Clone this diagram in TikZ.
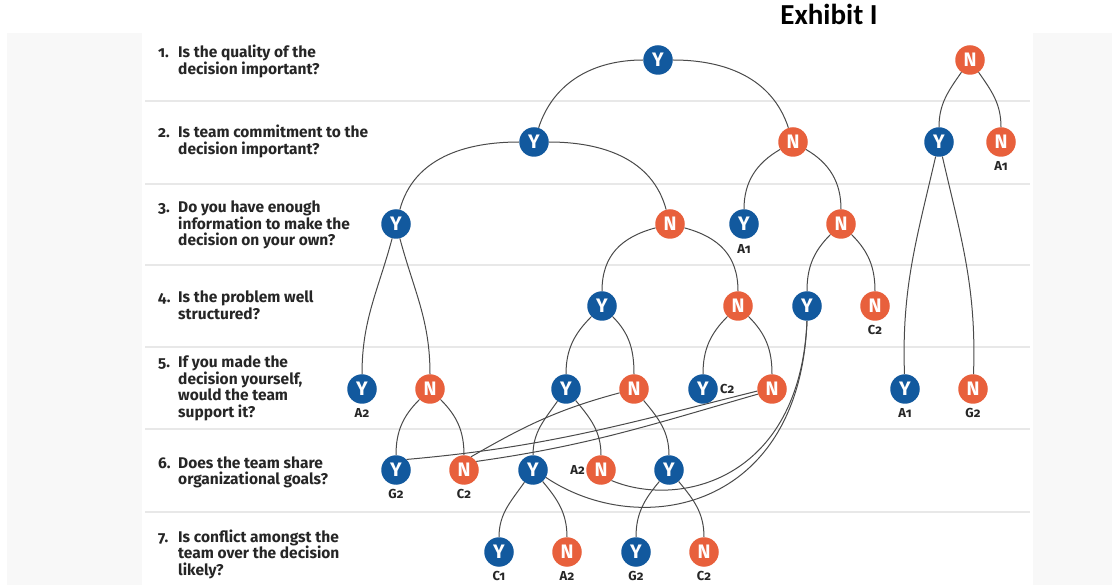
\documentclass[tikz,border=0pt]{standalone}
\usepackage{fontspec}
\setmainfont[Numbers=OldStyle]{Fira Sans}
\newfontfamily\titlefont{Carlito}
\definecolor{yblue}{HTML}{12599E}
\definecolor{norange}{HTML}{E8603C}
\definecolor{edgegray}{HTML}{4A4A4A}
\definecolor{sepgray}{HTML}{E8E8E8}
\definecolor{panelgray}{HTML}{F8F8F8}
\definecolor{qtextcol}{HTML}{262626}
\begin{document}
\begin{tikzpicture}[x=1pt,y=-1pt,
  yes/.style={circle, fill=yblue, minimum size=29.5pt, inner sep=0pt, text=white,
    font=\bfseries\fontsize{19.5}{19.5}\selectfont},
  no/.style={yes, fill=norange},
  lab/.style={font=\bfseries\fontsize{13}{13}\selectfont, text=qtextcol, inner sep=0pt},
  qline/.style={anchor=base west, inner sep=0pt, font=\bfseries\fontsize{15.5}{16}\selectfont, text=qtextcol},
  edge/.style={draw=edgegray, line width=1pt},
  sep/.style={draw=sepgray, line width=2pt}]
\useasboundingbox (0,0) rectangle (1112,585);
\fill[white] (0,0) rectangle (1112,585);
\fill[panelgray] (7,33) rectangle (142,585);
\fill[panelgray] (1033,33) rectangle (1112,585);
\foreach \yy in {101,184,265,347,429,512} \draw[sep] (145,\yy) -- (1030,\yy);

\node[font=\titlefont\bfseries\fontsize{29}{29}\selectfont, anchor=base, inner sep=0pt] (title) at (829,25) {Exhibit I};

% questions
\node[qline] (q1n) at (158,58) {1.};
\node[qline] (q1a) at (178,58) {Is the quality of the};
\node[qline] (q1b) at (178,74.5) {decision important?};
\node[qline] (q2n) at (158,138) {2.};
\node[qline] (q2a) at (178,138) {Is team commitment to the};
\node[qline] (q2b) at (178,154.5) {decision important?};
\node[qline] (q3n) at (158,213) {3.};
\node[qline] (q3a) at (178,213) {Do you have enough};
\node[qline] (q3b) at (178,229.5) {information to make the};
\node[qline] (q3c) at (178,246) {decision on your own?};
\node[qline] (q4n) at (158,303) {4.};
\node[qline] (q4a) at (178,303) {Is the problem well};
\node[qline] (q4b) at (178,319.5) {structured?};
\node[qline] (q5n) at (158,368) {5.};
\node[qline] (q5a) at (178,368) {If you made the};
\node[qline] (q5b) at (178,384.5) {decision yourself,};
\node[qline] (q5c) at (178,401) {would the team};
\node[qline] (q5d) at (178,417.5) {support it?};
\node[qline] (q6n) at (158,468) {6.};
\node[qline] (q6a) at (178,468) {Does the team share};
\node[qline] (q6b) at (178,484) {organizational goals?};
\node[qline] (q7n) at (158,542) {7.};
\node[qline] (q7a) at (178,542) {Is conflict amongst the};
\node[qline] (q7b) at (178,558.5) {team over the decision};
\node[qline] (q7c) at (178,575) {likely?};

% decision nodes
\node[yes] (Y1) at (658,60) {Y};
\node[no]  (Nt) at (970,60) {N};
\node[yes] (Y2) at (534,142) {Y};
\node[no]  (N2) at (793,142) {N};
\node[yes] (Yr) at (939,142) {Y};
\node[no]  (Nr2) at (1001,142) {N};
\node[yes] (Y3) at (396,224) {Y};
\node[no]  (N3) at (670,224) {N};
\node[yes] (Ya1) at (744,224) {Y};
\node[no]  (N3r) at (841,224) {N};
\node[yes] (Y4) at (602,306) {Y};
\node[no]  (N4) at (738,306) {N};
\node[yes] (Y4r) at (807,306) {Y};
\node[no]  (N4c) at (875,306) {N};
\node[yes] (Y5a) at (362,389) {Y};
\node[no]  (N5a) at (430,389) {N};
\node[yes] (Y5) at (566,389) {Y};
\node[no]  (N5) at (634,389) {N};
\node[yes] (Y5c) at (703,389) {Y};
\node[no]  (N5b) at (772,389) {N};
\node[yes] (Y5r) at (905,389) {Y};
\node[no]  (N5r) at (973,389) {N};
\node[yes] (Y6g) at (396,470) {Y};
\node[no]  (N6c) at (464,470) {N};
\node[yes] (Y6) at (533,470) {Y};
\node[no]  (N6a) at (601,470) {N};
\node[yes] (Y6b) at (669,470) {Y};
\node[yes] (Y7c) at (499,552) {Y};
\node[no]  (N7a) at (567,552) {N};
\node[yes] (Y7g) at (636,552) {Y};
\node[no]  (N7c) at (704,552) {N};

% outcome labels
\node[lab] (lNr2) at (1001,166) {A1};
\node[lab] (lYa1) at (744,249) {A1};
\node[lab] (lN4c) at (875,330) {C2};
\node[lab] (lY5a) at (362,413) {A2};
\node[lab, anchor=west] (lY5c) at (720,389) {C2};
\node[lab] (lY5r) at (905,413) {A1};
\node[lab] (lN5r) at (973,413) {G2};
\node[lab] (lY6g) at (396,494) {G2};
\node[lab] (lN6c) at (464,494) {C2};
\node[lab, anchor=east] (lN6a) at (585,470) {A2};
\node[lab] (lY7c) at (499,576) {C1};
\node[lab] (lN7a) at (567,576) {A2};
\node[lab] (lY7g) at (636,576) {G2};
\node[lab] (lN7c) at (704,576) {C2};

% connectors
\draw[edge] (Y1) to[out=180,in=72] (Y2);
\draw[edge] (Y1) to[out=0,in=108] (N2);
\draw[edge] (Y2) to[out=180,in=75] (Y3);
\draw[edge] (Y2) to[out=0,in=105] (N3);
\draw[edge] (Nt) to[out=235,in=90] (Yr);
\draw[edge] (Nt) to[out=-55,in=90] (Nr2);
\draw[edge] (N2) to[out=210,in=90] (Ya1);
\draw[edge] (N2) to[out=-30,in=90] (N3r);
\draw[edge] (Y3) to[out=255,in=90] (Y5a);
\draw[edge] (Y3) to[out=285,in=90] (N5a);
\draw[edge] (N3) to[out=195,in=90,looseness=1.1] (Y4);
\draw[edge] (N3) to[out=-15,in=90,looseness=1.1] (N4);
\draw[edge] (N3r) to[out=225,in=90] (Y4r);
\draw[edge] (N3r) to[out=-45,in=90] (N4c);
\draw[edge] (Yr) to[out=257,in=92] (Y5r);
\draw[edge] (Yr) to[out=283,in=88] (N5r);
\draw[edge] (Y4) to[out=225,in=90] (Y5);
\draw[edge] (Y4) to[out=-45,in=90] (N5);
\draw[edge] (N4) to[out=225,in=90] (Y5c);
\draw[edge] (N4) to[out=-45,in=90] (N5b);
\draw[edge] (N5a) to[out=225,in=90] (Y6g);
\draw[edge] (N5a) to[out=-45,in=90] (N6c);
\draw[edge] (Y5) to[out=235,in=90] (Y6);
\draw[edge] (Y5) to[out=-50,in=90] (N6a);
\draw[edge] (N5) to[out=-50,in=90] (Y6b);
\draw[edge] (N5.195) to[out=195,in=30] (N6c.62);
\draw[edge] (N5b.188) to[out=194,in=5] (Y6g.45);
\draw[edge] (N5b.200) to[out=196,in=8] (N6c.35);
\draw[edge] (Y4r.south) .. controls +(-7,160) and +(67,28) .. (N6a.-45);
\draw[edge] (Y4r.south) .. controls +(-7,190) and +(94,63) .. (Y6.-30);
\draw[edge] (Y6) to[out=235,in=90] (Y7c);
\draw[edge] (Y6) to[out=-50,in=90] (N7a);
\draw[edge] (Y6b) to[out=230,in=90] (Y7g);
\draw[edge] (Y6b) to[out=-50,in=90] (N7c);
\end{tikzpicture}
\end{document}
